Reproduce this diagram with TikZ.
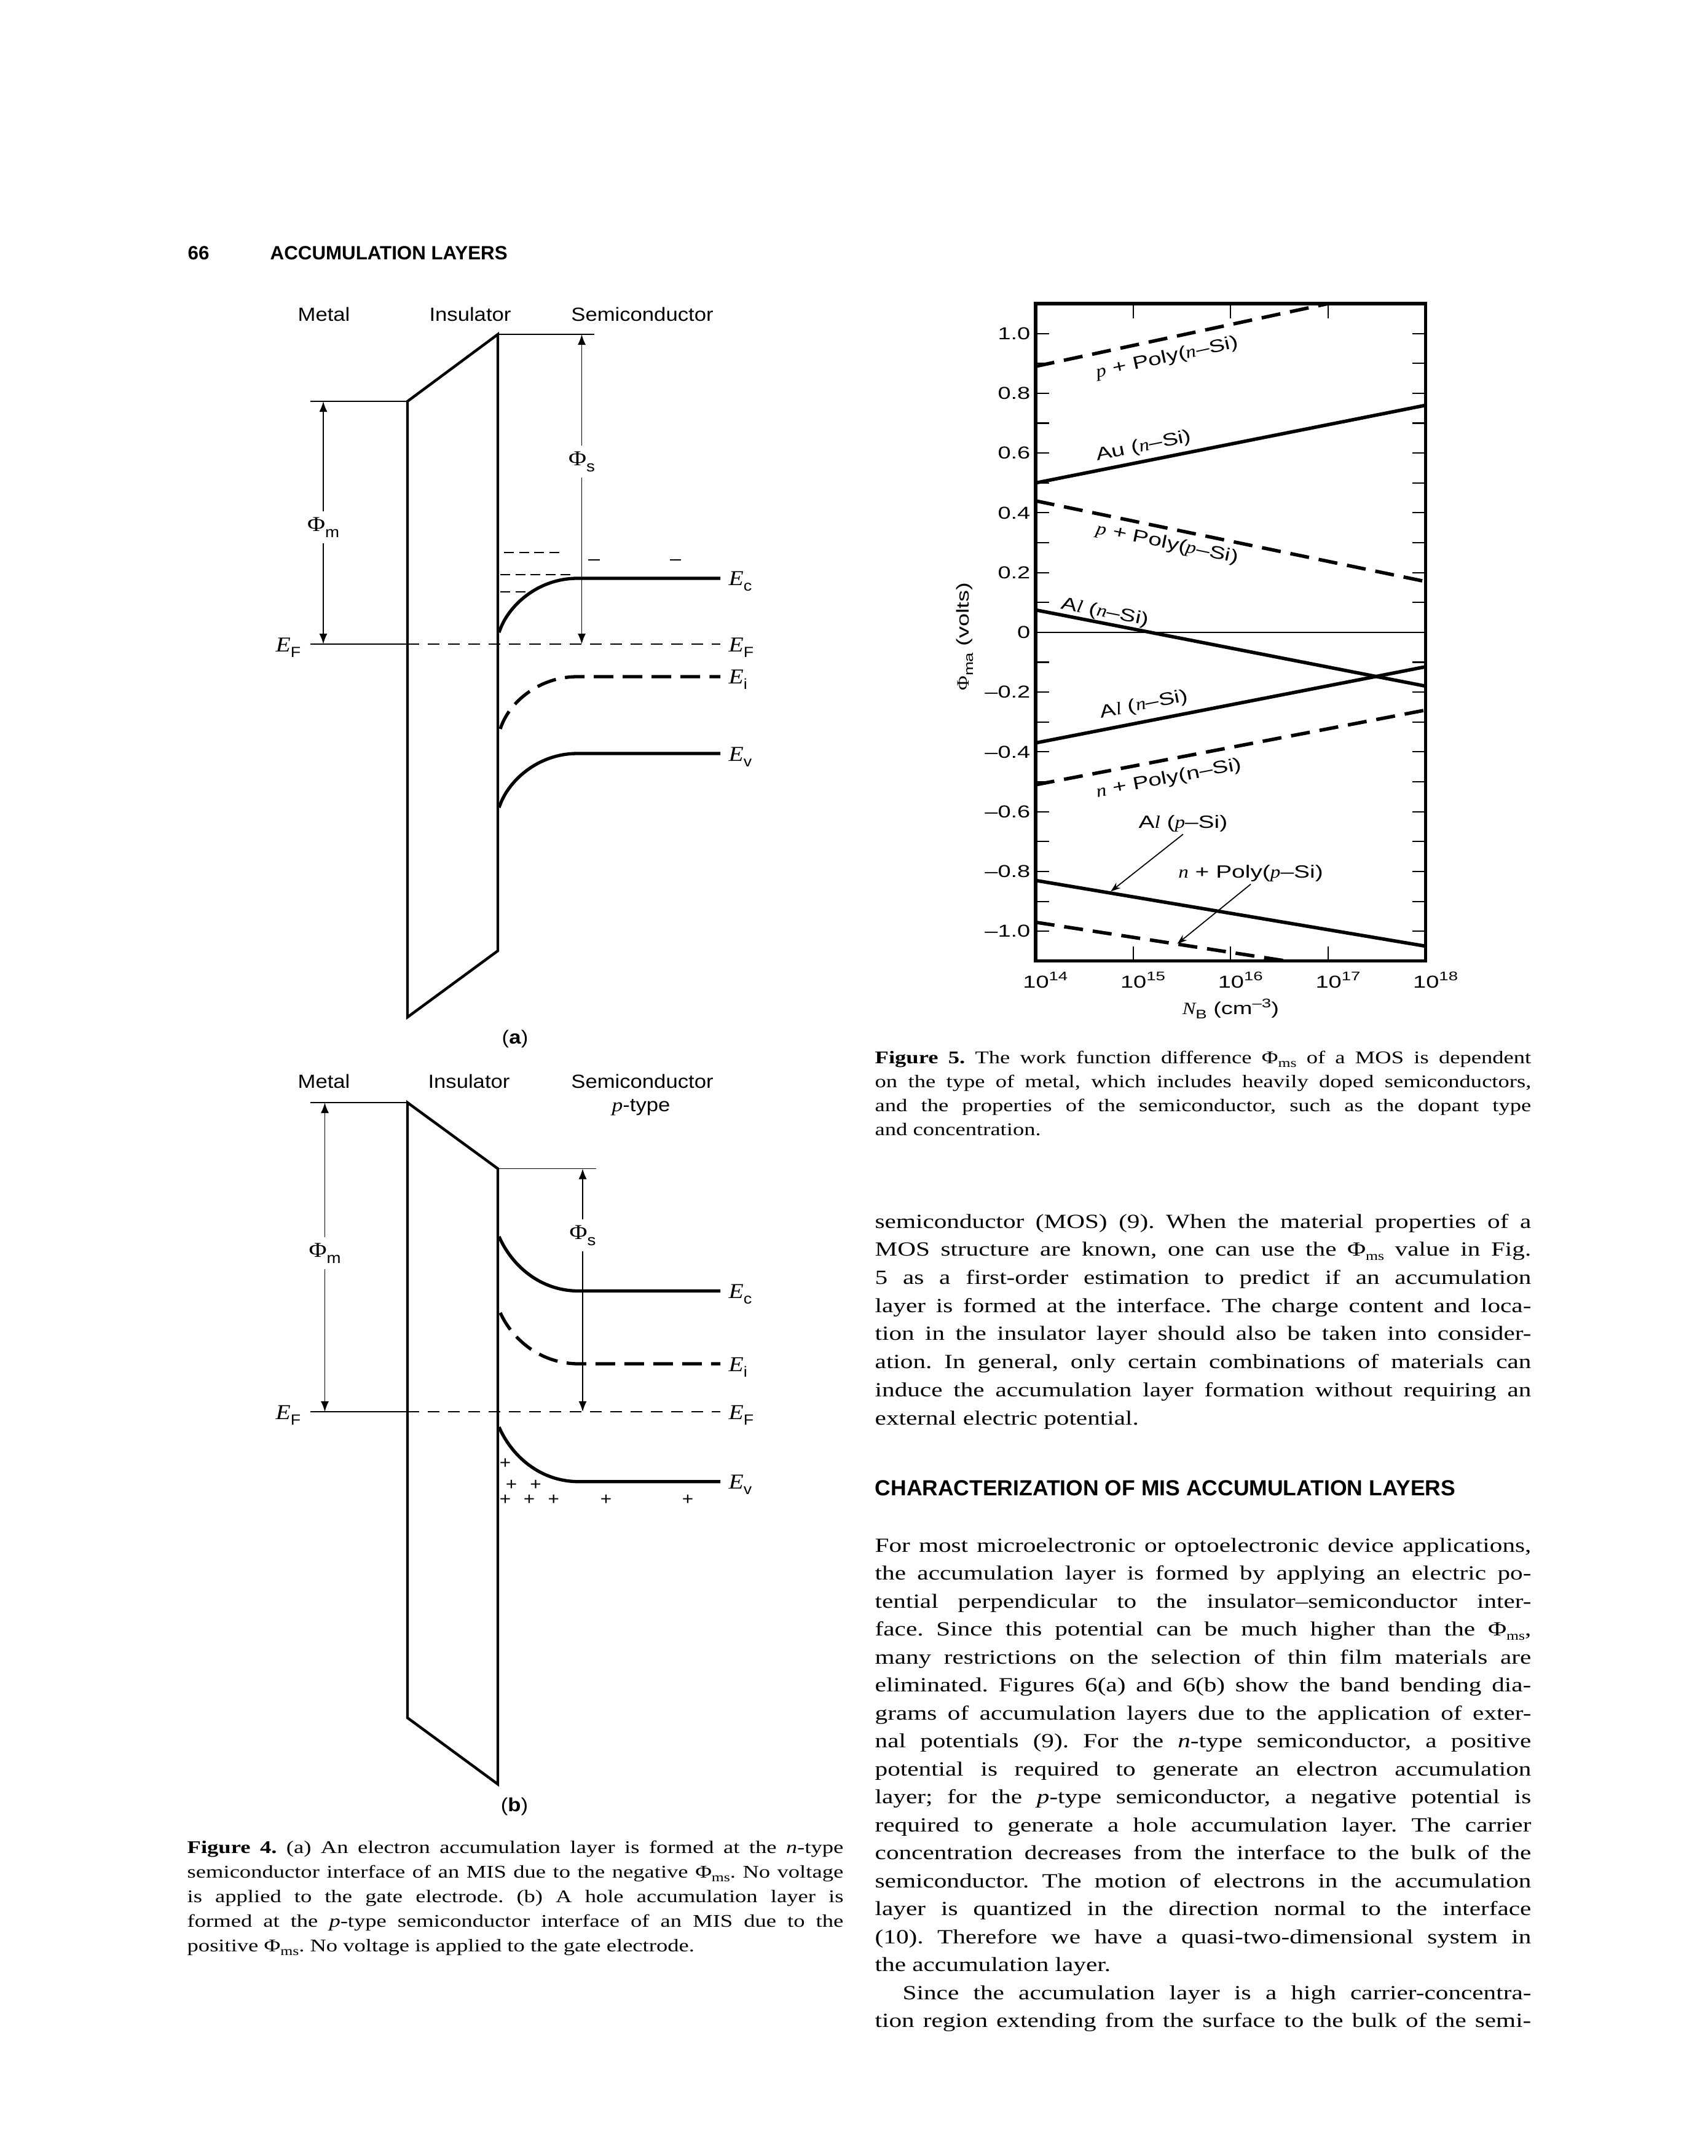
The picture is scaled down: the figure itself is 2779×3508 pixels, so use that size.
\documentclass[tikz,border=0pt]{standalone}
\usepackage{fontspec}
\setmainfont{Liberation Serif}
\newfontfamily\txtfont{Liberation Serif}[FakeStretch=1.26]
\newfontfamily\serfont{Liberation Serif}[FakeStretch=1.15]
\newfontfamily\figfont{Liberation Sans}[FakeStretch=1.12]
\newfontfamily\plotfont{Liberation Sans}[FakeStretch=1.35]
\newfontfamily\headfont{Liberation Sans}
\usetikzlibrary{arrows.meta}

\newlength\colw \setlength\colw{10.67cm}
\newcommand{\fl}[1]{\makebox[\colw][s]{#1}}
\newcommand{\phims}{Φ\raisebox{-0.45ex}{\fontsize{5.8}{6}\selectfont ms}}
\newcommand{\vi}[1]{{\serfont\itshape #1}}
\newcommand{\lev}[1]{{\serfont\itshape\fontsize{9.8}{10}\selectfont E}\raisebox{-0.55ex}{\figfont\fontsize{6.8}{7}\selectfont #1}}
\newcommand{\phil}[1]{{\serfont\fontsize{9.8}{10}\selectfont Φ}\raisebox{-0.6ex}{\figfont\fontsize{7}{8}\selectfont #1}}
\newcommand{\dec}[1]{10\raisebox{0.75ex}{\fontsize{5.8}{6}\selectfont #1}}

\begin{document}
\frenchspacing
\begin{tikzpicture}[x=0.01cm, y=-0.01cm,
    bar/.style={line width=1.25pt, line join=miter},
    band/.style={line width=1.5pt},
    banddash/.style={band, dash pattern=on 0.32cm off 0.15cm},
    fine/.style={line width=0.45pt},
    fermi/.style={fine, dash pattern=on 0.19cm off 0.14cm},
    trap/.style={line width=0.7pt, dash pattern=on 0.16cm off 0.085cm},
    dim/.style={fine, -{Latex[length=1.7mm,width=1.3mm]}},
    lbl/.style={font=\figfont\fontsize{8.8}{10}\selectfont, inner sep=0pt},
    dimlbl/.style={inner sep=2.5pt},
    elbl/.style={inner sep=0pt},
    hole/.style={font=\figfont\fontsize{8}{9}\selectfont, inner sep=0pt},
    plotframe/.style={line width=1.5pt},
    tk/.style={line width=0.6pt},
    pline/.style={line width=1.6pt},
    pdash/.style={pline, dash pattern=on 0.31cm off 0.16cm},
    tlbl/.style={font=\plotfont\fontsize{8}{9}\selectfont, inner sep=0pt},
    plbl/.style={font=\plotfont\fontsize{8.2}{9}\selectfont, inner sep=1pt},
    ptr/.style={line width=0.5pt, -{Stealth[length=1.6mm,width=1.1mm]}},
    txt/.style={font=\txtfont\fontsize{9.3}{11}\selectfont, anchor=base west, inner sep=0pt},
    capline/.style={font=\txtfont\fontsize{8.25}{10}\selectfont, anchor=base west, inner sep=0pt},
    head/.style={font=\headfont\bfseries\fontsize{8.9}{10}\selectfont, anchor=base west, inner sep=0pt}
  ]
  \fill[white] (0,0) rectangle (2779,3508);
  \useasboundingbox (0,0) rectangle (2779,3508);

  % running head
  \node[head] (pg) at (305,422) {66};
  \node[head] (run) at (439,422) {ACCUMULATION LAYERS};

  % ---------- Figure 4(a)
  \node[lbl, anchor=base] (metA) at (527,522) {Metal};
  \node[lbl, anchor=base] (insA) at (765,522) {Insulator};
  \node[lbl, anchor=base] (semA) at (1045,522) {Semiconductor};
  \draw[fine] (505,653) -- (663,653);
  \draw[bar] (663,653) -- (810,544) -- (810,1547) -- (663,1655) -- cycle;
  \draw[fine] (810,544) -- (967,544);
  \draw[fine] (505,1048) -- (663,1048);
  \draw[fermi] (663,1048) -- (1172,1048);
  \draw[band] (812,1029) .. controls (826,985) and (876,941) .. (939,941) -- (1172,941);
  \draw[banddash] (814,1186) .. controls (828,1142) and (878,1101) .. (939,1101) -- (1172,1101);
  \draw[band] (812,1314) .. controls (826,1270) and (876,1226) .. (939,1226) -- (1172,1226);
  \draw[trap] (820,899) -- (912,899);
  \draw[trap] (814,935) -- (936,935);
  \draw[trap] (814,963) -- (867,963);
  \draw[trap, solid] (957,911) -- (976,911);
  \draw[trap, solid] (1090,911) -- (1108,911);
  \node[dimlbl] (phmA) at (526,858) {\phil{m}};
  \coordinate (phmA-t) at (526,653);
  \coordinate (phmA-b) at (526,1048);
  \draw[dim] (phmA) -- (phmA-t);
  \draw[dim] (phmA) -- (phmA-b);
  \node[dimlbl] (phsA) at (946.5,751) {\phil{s}};
  \coordinate (phsA-t) at (946.5,544);
  \coordinate (phsA-b) at (946.5,1048);
  \draw[dim] (phsA) -- (phsA-t);
  \draw[dim] (phsA) -- (phsA-b);
  \node[elbl, anchor=east] (efA1) at (490,1054) {\lev{F}};
  \node[elbl, anchor=west] (ecA) at (1185,946) {\lev{c}};
  \node[elbl, anchor=west] (efA2) at (1185,1054) {\lev{F}};
  \node[elbl, anchor=west] (eiA) at (1185,1106) {\lev{i}};
  \node[elbl, anchor=west] (evA) at (1185,1232) {\lev{v}};
  \node[lbl] (subA) at (838,1690) {(\textbf{a})};

  % ---------- Figure 4(b)
  \node[lbl, anchor=base] (metB) at (527,1770) {Metal};
  \node[lbl, anchor=base] (insB) at (763,1770) {Insulator};
  \node[lbl, anchor=base] (semB) at (1045,1770) {Semiconductor};
  \node[lbl, anchor=base] (typB) at (1043,1808) {\vi{p}-type};
  \draw[fine] (505,1794) -- (663,1794);
  \draw[bar] (663,1794) -- (810,1901.5) -- (810,2903) -- (663,2795) -- cycle;
  \draw[fine] (810,1901.5) -- (970,1901.5);
  \draw[fine] (505,2297) -- (663,2297);
  \draw[fermi] (663,2297) -- (1172,2297);
  \draw[band] (812,2012) .. controls (832,2058) and (878,2100.5) .. (941.5,2100.5) -- (1172,2100.5);
  \draw[banddash] (814,2136) .. controls (834,2180) and (880,2219) .. (941.5,2219) -- (1172,2219);
  \draw[band] (812,2322) .. controls (832,2368) and (878,2410.7) .. (941.5,2410.7) -- (1172,2410.7);
  \foreach \px/\py [count=\i] in {822/2381, 832/2416, 871.5/2416, 822/2440, 861/2440, 900.7/2440, 986/2440, 1119/2440}
    \node[hole] (h\i) at (\px,\py) {+};
  \node[dimlbl] (phmB) at (528.5,2039) {\phil{m}};
  \coordinate (phmB-t) at (528.5,1794);
  \coordinate (phmB-b) at (528.5,2297);
  \draw[dim] (phmB) -- (phmB-t);
  \draw[dim] (phmB) -- (phmB-b);
  \node[dimlbl] (phsB) at (948,2010) {\phil{s}};
  \coordinate (phsB-t) at (948,1901.5);
  \coordinate (phsB-b) at (948,2297);
  \draw[dim] (phsB) -- (phsB-t);
  \draw[dim] (phsB) -- (phsB-b);
  \node[elbl, anchor=east] (efB1) at (490,2303) {\lev{F}};
  \node[elbl, anchor=west] (ecB) at (1185,2106) {\lev{c}};
  \node[elbl, anchor=west] (eiB) at (1185,2225) {\lev{i}};
  \node[elbl, anchor=west] (efB2) at (1185,2303) {\lev{F}};
  \node[elbl, anchor=west] (evB) at (1185,2416) {\lev{v}};
  \node[lbl] (subB) at (837,2939) {(\textbf{b})};

  % ---------- Figure 5: work function difference vs doping
  \begin{scope}[shift={(16.84cm,-10.283cm)}, x=1.586cm, y=4.86cm]
    \draw[plotframe] (0,-1.1) rectangle (4,1.1);
    \draw[fine] (0,0) -- (4,0);
    \foreach \n in {-10,...,10} {
      \draw[tk] (0,\n/10) -- (0.139,\n/10);
      \draw[tk] (4,\n/10) -- (3.861,\n/10);
    }
    \foreach \d in {1,2,3} {
      \draw[tk] (\d,1.1) -- (\d,1.051);
      \draw[tk] (\d,-1.1) -- (\d,-1.051);
    }
    \foreach \v/\t [count=\i] in {1/1.0, 0.8/0.8, 0.6/0.6, 0.4/0.4, 0.2/0.2, 0/0,
        -0.2/–0.2, -0.4/–0.4, -0.6/–0.6, -0.8/–0.8, -1/–1.0}
      \node[tlbl, anchor=east] (yt\i) at (-0.05,\v) {\t};
    \foreach \d [count=\i] in {0,...,4} {
      \pgfmathtruncatemacro\expo{14+\d}
      \node[tlbl, anchor=base] (xt\i) at ({\d+0.1},-1.189) {\dec{\expo}};
    }
    \node[tlbl, anchor=base] (xlab) at (2.0,-1.278)
      {\vi{N}\raisebox{-0.5ex}{\fontsize{5.8}{6}\selectfont B} (cm\raisebox{0.75ex}{\fontsize{5.8}{6}\selectfont –3})};
    \node[tlbl, rotate=90] (ylab) at (-0.725,-0.014)
      {{\serfont Φ}\raisebox{-0.5ex}{\fontsize{5.8}{6}\selectfont ma} (volts)};

    \draw[pdash] (0,0.89) -- (3,1.1);
    \draw[pline] (0,0.50) -- (4,0.76);
    \draw[pdash] (0,0.44) -- (4,0.17);
    \draw[pline] (0,0.075) -- (4,-0.18);
    \draw[pline] (0,-0.37) -- (4,-0.115);
    \draw[pdash] (0,-0.51) -- (4,-0.26);
    \draw[pline] (0,-0.83) -- (4,-1.05);
    \draw[pdash] (0,-0.97) -- (2.58,-1.1);

    \node[plbl, rotate=12.1] (lb1) at (1.349,0.918) {\vi{p} + Poly(\vi{n}–Si)};
    \node[plbl, rotate=11.3] (lb2) at (1.11,0.622) {Au (\vi{n}–Si)};
    \node[plbl, rotate=-11.7] (lb3) at (1.349,0.296) {\vi{p} + Poly(\vi{p}–Si)};
    \node[plbl, rotate=-11.1] (lb4) at (0.71,0.066) {A\vi{l} (\vi{n}–Si)};
    \node[plbl, rotate=11] (lb5) at (1.112,-0.243) {A\vi{l} (\vi{n}–Si)};
    \node[plbl, rotate=10.8] (lb6) at (1.368,-0.49) {\vi{n} + Poly(n–Si)};
    \node[plbl] (lb7) at (1.512,-0.639) {A\vi{l} (\vi{p}–Si)};
    \node[plbl] (lb8) at (2.206,-0.806) {\vi{n} + Poly(\vi{p}–Si)};
    \coordinate (tip7) at (0.77,-0.867);
    \coordinate (tip8) at (1.453,-1.042);
    \draw[ptr] (lb7.south) -- (tip7);
    \draw[ptr] (lb8.south) -- (tip8);
  \end{scope}

  % ---------- captions and running text
  \foreach \ln [count=\k from 0] in {
      {\textbf{Figure 5.} The work function difference \phims{} of a MOS is dependent},
      {on the type of metal, which includes heavily doped semiconductors,},
      {and the properties of the semiconductor, such as the dopant type}}
    \node[capline] (cf\k) at (1423,{1730+39*\k}) {\fl{\ln}};
  \node[capline] (cf3) at (1423,1847) {and concentration.};

  \foreach \ln [count=\k from 0] in {
      {semiconductor (MOS) (9). When the material properties of a},
      {MOS structure are known, one can use the \phims{} value in Fig.},
      {5 as a first-order estimation to predict if an accumulation},
      {layer is formed at the interface. The charge content and loca-},
      {tion in the insulator layer should also be taken into consider-},
      {ation. In general, only certain combinations of materials can},
      {induce the accumulation layer formation without requiring an}}
    \node[txt] (pa\k) at (1423,{1998+45.7*\k}) {\fl{\ln}};
  \node[txt] (pa7) at (1423,2318) {external electric potential.};

  \node[head, font=\headfont\bfseries\fontsize{10.1}{12}\selectfont] (sec) at (1423,2433)
    {CHARACTERIZATION OF MIS ACCUMULATION LAYERS};

  \foreach \ln [count=\k from 0] in {
      {For most microelectronic or optoelectronic device applications,},
      {the accumulation layer is formed by applying an electric po-},
      {tential perpendicular to the insulator–semiconductor inter-},
      {face. Since this potential can be much higher than the \phims,},
      {many restrictions on the selection of thin film materials are},
      {eliminated. Figures 6(a) and 6(b) show the band bending dia-},
      {grams of accumulation layers due to the application of exter-},
      {nal potentials (9). For the \textit{n}-type semiconductor, a positive},
      {potential is required to generate an electron accumulation},
      {layer; for the \textit{p}-type semiconductor, a negative potential is},
      {required to generate a hole accumulation layer. The carrier},
      {concentration decreases from the interface to the bulk of the},
      {semiconductor. The motion of electrons in the accumulation},
      {layer is quantized in the direction normal to the interface},
      {(10). Therefore we have a quasi-two-dimensional system in}}
    \node[txt] (pb\k) at (1423,{2525+45.5*\k}) {\fl{\ln}};
  \node[txt] (pb15) at (1423,3207.5) {the accumulation layer.};
  \node[txt] (pb16) at (1423,3253) {\fl{\hspace*{0.45cm}Since the accumulation layer is a high carrier-concentra-}};
  \node[txt] (pb17) at (1423,3298.5) {\fl{tion region extending from the surface to the bulk of the semi-}};

  \foreach \ln [count=\k from 0] in {
      {\textbf{Figure 4.} (a) An electron accumulation layer is formed at the \textit{n}-type},
      {semiconductor interface of an MIS due to the negative \phims. No voltage},
      {is applied to the gate electrode. (b) A hole accumulation layer is},
      {formed at the \textit{p}-type semiconductor interface of an MIS due to the}}
    \node[capline] (cg\k) at (304,{3015+40*\k}) {\fl{\ln}};
  \node[capline] (cg4) at (304,3175) {positive \phims. No voltage is applied to the gate electrode.};
\end{tikzpicture}
\end{document}
